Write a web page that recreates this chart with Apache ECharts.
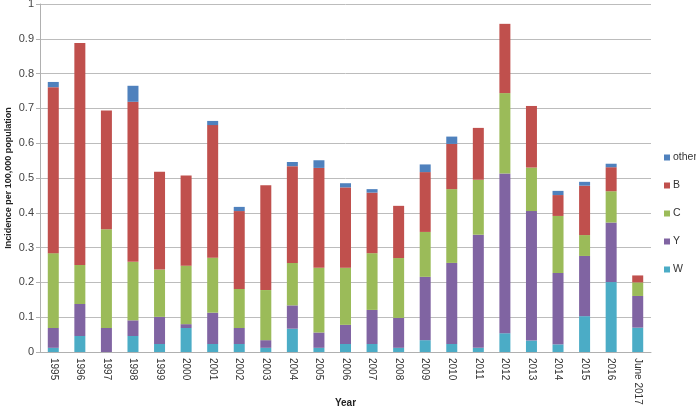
<!DOCTYPE html>
<html>
<head>
<meta charset="utf-8">
<script src="https://cdn.jsdelivr.net/npm/echarts@6/dist/echarts.min.js"></script>
<style>
	html,body{margin:0;padding:0;background:#fff;}
	#chart{width:696px;height:413px;}
</style>
</head>
<body>
<div id="chart"></div>
<script>
	var years = ['1995','1996','1997','1998','1999','2000','2001','2002','2003','2004','2005','2006','2007','2008','2009','2010','2011','2012','2013','2014','2015','2016','June 2017'];
	var wData     = [0.012,0.046,0.000,0.046,0.023,0.069,0.023,0.023,0.012,0.067,0.012,0.023,0.023,0.012,0.034,0.023,0.012,0.054,0.033,0.022,0.103,0.201,0.070];
	var yData     = [0.057,0.092,0.069,0.045,0.078,0.011,0.090,0.046,0.022,0.067,0.044,0.055,0.098,0.086,0.182,0.233,0.325,0.459,0.372,0.205,0.173,0.171,0.091];
	var cData     = [0.215,0.112,0.284,0.168,0.136,0.168,0.158,0.112,0.144,0.122,0.186,0.164,0.163,0.172,0.129,0.212,0.158,0.231,0.125,0.164,0.060,0.090,0.039];
	var bData     = [0.477,0.638,0.341,0.460,0.281,0.259,0.381,0.224,0.301,0.278,0.287,0.231,0.174,0.150,0.172,0.130,0.149,0.199,0.177,0.060,0.142,0.069,0.020];
	var otherData = [0.015,0,0,0.046,0,0,0.012,0.012,0,0.012,0.022,0.012,0.010,0,0.022,0.021,0,0,0,0.012,0.011,0.010,0];
	var yTicks    = ['0','0.1','0.2','0.3','0.4','0.5','0.6','0.7','0.8','0.9','1'];

	var fontName = 'Liberation Sans';
	function mkSeries(name, data, color){
		return {
			name: name,
			type: 'bar',
			stack: 'total',
			barWidth: 11,
			itemStyle: { color: color },
			emphasis: { disabled: true },
			data: data
		};
	}

	var chart = echarts.init(document.getElementById('chart'));
	chart.setOption({
		animation: false,
		textStyle: { fontFamily: fontName },
		grid: { left: 40, right: 45, top: 4, bottom: 61, containLabel: false, outerBoundsMode: 'none' },
		legend: {
			orient: 'vertical',
			left: 664,
			top: 152,
			padding: 0,
			itemWidth: 6,
			itemHeight: 6,
			itemGap: 17,
			icon: 'rect',
			data: ['other','B','C','Y','W'],
			textStyle: { fontSize: 10.5, color: '#333', fontFamily: fontName, padding: [0, 0, 0, -2] }
		},
		xAxis: {
			type: 'category',
			data: years,
			name: 'Year',
			nameLocation: 'middle',
			nameGap: 46,
			nameMoveOverlap: false,
			nameTextStyle: { fontSize: 10, fontWeight: 'bold', color: '#222' },
			axisLine: { lineStyle: { color: '#b0b0b0' } },
			axisTick: { length: 4, lineStyle: { color: '#b0b0b0' } },
			axisLabel: { rotate: -90, fontSize: 10, color: '#333', margin: 6, interval: 0 }
		},
		yAxis: {
			type: 'value',
			min: 0,
			max: 1,
			interval: 0.1,
			name: 'Incidence per 100,000 population',
			nameLocation: 'middle',
			nameGap: 27,
			nameMoveOverlap: false,
			nameTextStyle: { fontSize: 9, fontWeight: 'bold', color: '#222' },
			axisLine: { show: true, lineStyle: { color: '#b0b0b0' } },
			axisTick: { show: true, length: 4, lineStyle: { color: '#b0b0b0' } },
			splitLine: { lineStyle: { color: '#bcbcbc' } },
			axisLabel: {
				fontSize: 11,
				color: '#444',
				margin: 6,
				formatter: function(v){ return yTicks[Math.round(v*10)]; }
			}
		},
		series: [
			mkSeries('W', wData, '#4BACC6'),
			mkSeries('Y', yData, '#8064A2'),
			mkSeries('C', cData, '#9BBB59'),
			mkSeries('B', bData, '#C0504D'),
			mkSeries('other', otherData, '#4F81BD')
		]
	});
</script>
</body>
</html>
